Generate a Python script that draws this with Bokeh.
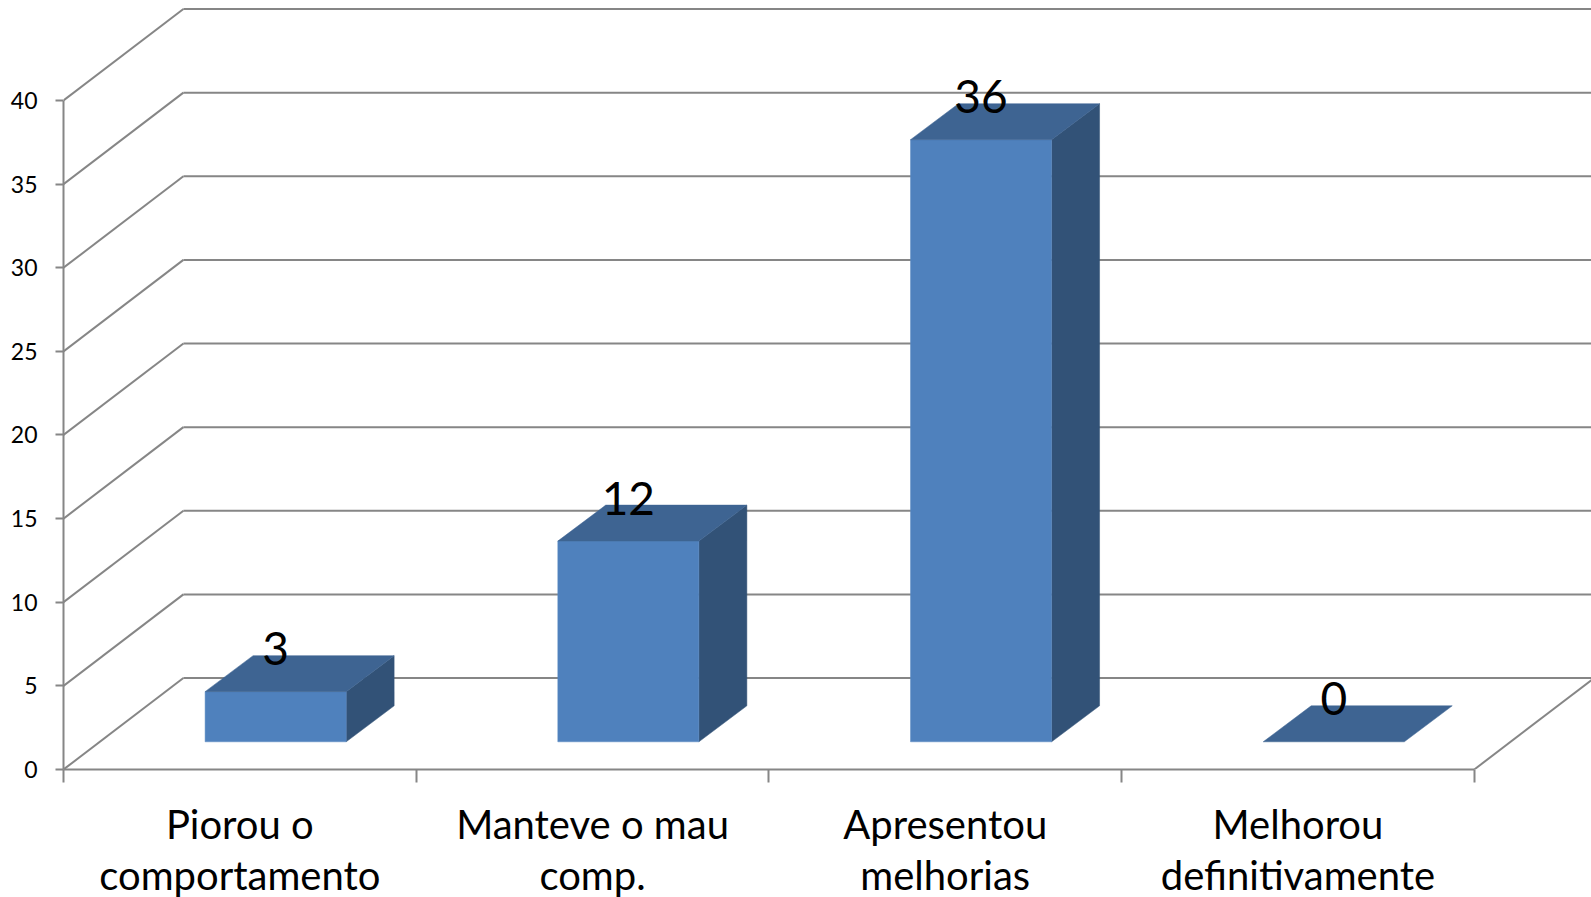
from bokeh.plotting import figure
from bokeh.embed import file_html
from bokeh.resources import INLINE
from bokeh.models import Range1d, LinearAxis, FixedTicker
from bokeh.core.properties import value

categories = ["Piorou o\ncomportamento", "Manteve o mau\ncomp.", "Apresentou\nmelhorias", "Melhorou\ndefinitivamente"]
values = [3, 12, 36, 0]
y_ticks = [0, 5, 10, 15, 20, 25, 30, 35, 40]

GRID = "#868686"
FONT = "Lato"
WALL_DX, WALL_DY = 0.340, 5.47      # depth of the chart's floor
BAR_DX, BAR_DY = 0.136, 2.152       # depth of a bar
BASE_DY = 1.656                     # bars stand this far back on the floor
BAR_LEFT, BAR_W = 0.4015, 0.400

p = figure(width=1591, height=903, output_backend="svg", toolbar_location=None,
           x_range=Range1d(0, 4.3323), y_range=Range1d(0, 45.56),
           x_axis_type=None, y_axis_type=None,
           min_border_left=63, min_border_right=0, min_border_top=7, min_border_bottom=134,
           margin=(0, 0, -6, 0))
p.outline_line_color = None
p.xgrid.visible = False
p.ygrid.visible = False
p.background_fill_color = "white"
p.border_fill_color = "white"

n = len(categories)
# side wall diagonals and back wall lines
p.multi_line([[0, WALL_DX] for _ in y_ticks], [[v, v + WALL_DY] for v in y_ticks],
             line_color=GRID, line_width=2)
p.multi_line([[WALL_DX, n + WALL_DX + 0.1] for _ in y_ticks], [[v + WALL_DY, v + WALL_DY] for v in y_ticks],
             line_color=GRID, line_width=2)
p.line([n, n + WALL_DX], [0, WALL_DY], line_color=GRID, line_width=2)

# bars
for i, v in enumerate(values):
    x0 = i + BAR_LEFT
    x1 = x0 + BAR_W
    y0 = BASE_DY
    y1 = BASE_DY + v
    if v > 0:
        p.patch([x1, x1 + BAR_DX, x1 + BAR_DX, x1], [y0, y0 + BAR_DY, y1 + BAR_DY, y1],
                fill_color="#325277", line_color="#325277", line_width=0.5)
        p.quad(left=x0, right=x1, bottom=y0, top=y1, fill_color="#4F81BD", line_color="#5B8AC2", line_width=0.5)
    p.patch([x0, x1, x1 + BAR_DX, x0 + BAR_DX], [y1, y1, y1 + BAR_DY, y1 + BAR_DY],
            fill_color="#3E6492", line_color="#3E6492", line_width=0.5)

p.text(x=[i + BAR_LEFT + BAR_W / 2 for i in range(n)], y=[BASE_DY + v for v in values],
       text=[str(v) for v in values], text_font=value(FONT), text_font_size="46px", text_color="black",
       text_align="center", text_baseline="alphabetic", y_offset=-43)

# axes
yax = LinearAxis(ticker=FixedTicker(ticks=y_ticks), bounds=(0, 40))
yax.axis_line_color = GRID
yax.axis_line_width = 2
yax.major_tick_line_color = GRID
yax.major_tick_line_width = 2
yax.major_tick_in = 0
yax.major_tick_out = 8
yax.minor_tick_line_color = None
yax.major_label_standoff = 18
yax.major_label_text_font = FONT
yax.major_label_text_font_size = "23px"
yax.major_label_text_color = "black"
p.add_layout(yax, "left")

xax = LinearAxis(ticker=FixedTicker(ticks=[i + 0.5 for i in range(n)], minor_ticks=list(range(n + 1))),
                 bounds=(0, n))
xax.major_label_overrides = {i + 0.5: c for i, c in enumerate(categories)}
xax.axis_line_color = GRID
xax.axis_line_width = 2
xax.major_tick_line_color = None
xax.major_tick_in = 0
xax.major_tick_out = 0
xax.minor_tick_line_color = GRID
xax.minor_tick_line_width = 2
xax.minor_tick_in = 0
xax.minor_tick_out = 13
xax.major_label_standoff = 17
xax.major_label_text_font = FONT
xax.major_label_text_font_size = "40px"
xax.major_label_text_color = "black"
xax.major_label_text_line_height = 1.08
xax.major_label_orientation = "horizontal"
p.add_layout(xax, "below")

open("out.html", "w").write(file_html(p, INLINE))
